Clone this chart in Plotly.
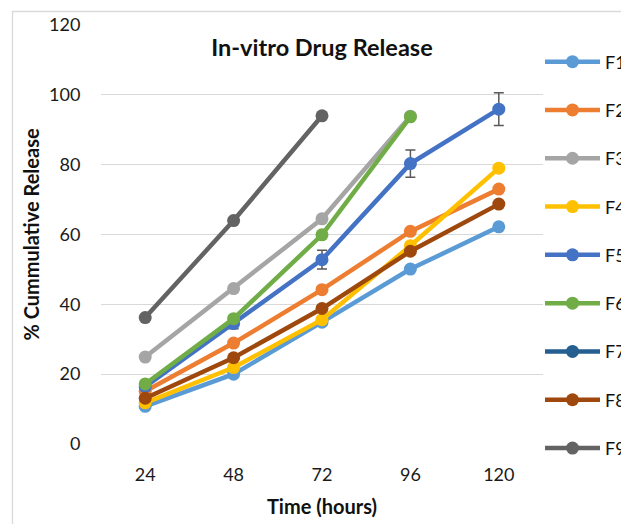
import plotly.graph_objects as go

time_labels = ["24", "48", "72", "96", "120"]
series_names = ["F1", "F2", "F3", "F4", "F5", "F6", "F7", "F8", "F9"]

F1 = [10.8, 20.0, 34.9, 50.1, 62.2]
F2 = [15.1, 28.9, 44.2, 60.9, 73.0]
F3 = [24.9, 44.5, 64.5, 93.9, None]
F4 = [11.8, 21.9, 35.6, 56.8, 79.0]
F5 = [16.4, 34.5, 52.8, 80.3, 95.9]
F6 = [17.2, 35.9, 59.9, 93.7, None]
F7 = [None, None, None, None, None]
F8 = [13.1, 24.7, 38.8, 55.2, 68.7]
F9 = [36.2, 64.0, 94.0, None, None]
F5_err = [1.0, 1.5, 2.7, 3.9, 4.7]

values = [F1, F2, F3, F4, F5, F6, F7, F8, F9]
colors = ["#5B9BD5", "#ED7D31", "#A5A5A5", "#FFC000", "#4472C4",
          "#70AD47", "#255E91", "#9E480E", "#636363"]

FONT = "Lato"
fig = go.Figure()
for i, (name, ys, col) in enumerate(zip(series_names, values, colors)):
    kw = {}
    if name == "F5":
        kw["error_y"] = dict(type="data", array=F5_err, visible=True,
                             color="#595959", thickness=1.5, width=5)
    fig.add_trace(go.Scatter(
        x=time_labels, y=ys, name=name, mode="lines+markers",
        line=dict(color=col, width=4.5),
        marker=dict(color=col, size=13),
        legendgroup=name, **kw))

fig.update_layout(
    width=621, height=524,
    paper_bgcolor="white", plot_bgcolor="white",
    margin=dict(l=101, r=78, t=25, b=80, autoexpand=False),
    font=dict(family=FONT, color="#1a1a1a", size=18),
    title=dict(text="<b>In-vitro Drug Release</b>", x=0.5 * (101 + 543) / 621,
               xanchor="center", y=1 - 48 / 524, yanchor="middle",
               font=dict(family=FONT, size=23.5, color="#111111")),
    showlegend=True,
    legend=dict(x=(540 - 101) / 442, xanchor="left", y=0.956, yanchor="top",
                traceorder="grouped", tracegroupgap=21.9, itemwidth=55,
                font=dict(family=FONT, size=18, color="#111111"),
                bgcolor="rgba(0,0,0,0)"),
    xaxis=dict(type="category", range=[-0.5, 4.5], showgrid=False,
               showline=False, zeroline=False, ticks="outside", ticklen=14,
               tickcolor="rgba(0,0,0,0)",
               tickfont=dict(family=FONT, size=18, color="#1a1a1a"),
               title=dict(text="<b>Time (hours)</b>", standoff=16,
                          font=dict(family=FONT, size=20, color="#111111"))),
    yaxis=dict(range=[0, 120], dtick=20, showgrid=True, gridcolor="#D9D9D9",
               gridwidth=1.3, showline=False, zeroline=False,
               ticks="outside", ticklen=16, tickcolor="rgba(0,0,0,0)",
               tickfont=dict(family=FONT, size=18, color="#1a1a1a"),
               title=dict(text="<b>% Cummulative Release</b>", standoff=4,
                          font=dict(family=FONT, size=20, color="#111111"))),
    shapes=[dict(type="rect", xref="paper", yref="paper",
                 x0=(12.5 - 101) / 442, x1=(640 - 101) / 442,
                 y0=(444.5 - 540) / 419.5, y1=(444.5 - 11.5) / 419.5,
                 line=dict(color="#D9D9D9", width=1.3), layer="below")],
)

fig.write_html("out.html", config={"displayModeBar": False},
               post_script="document.body.style.margin='0';")
